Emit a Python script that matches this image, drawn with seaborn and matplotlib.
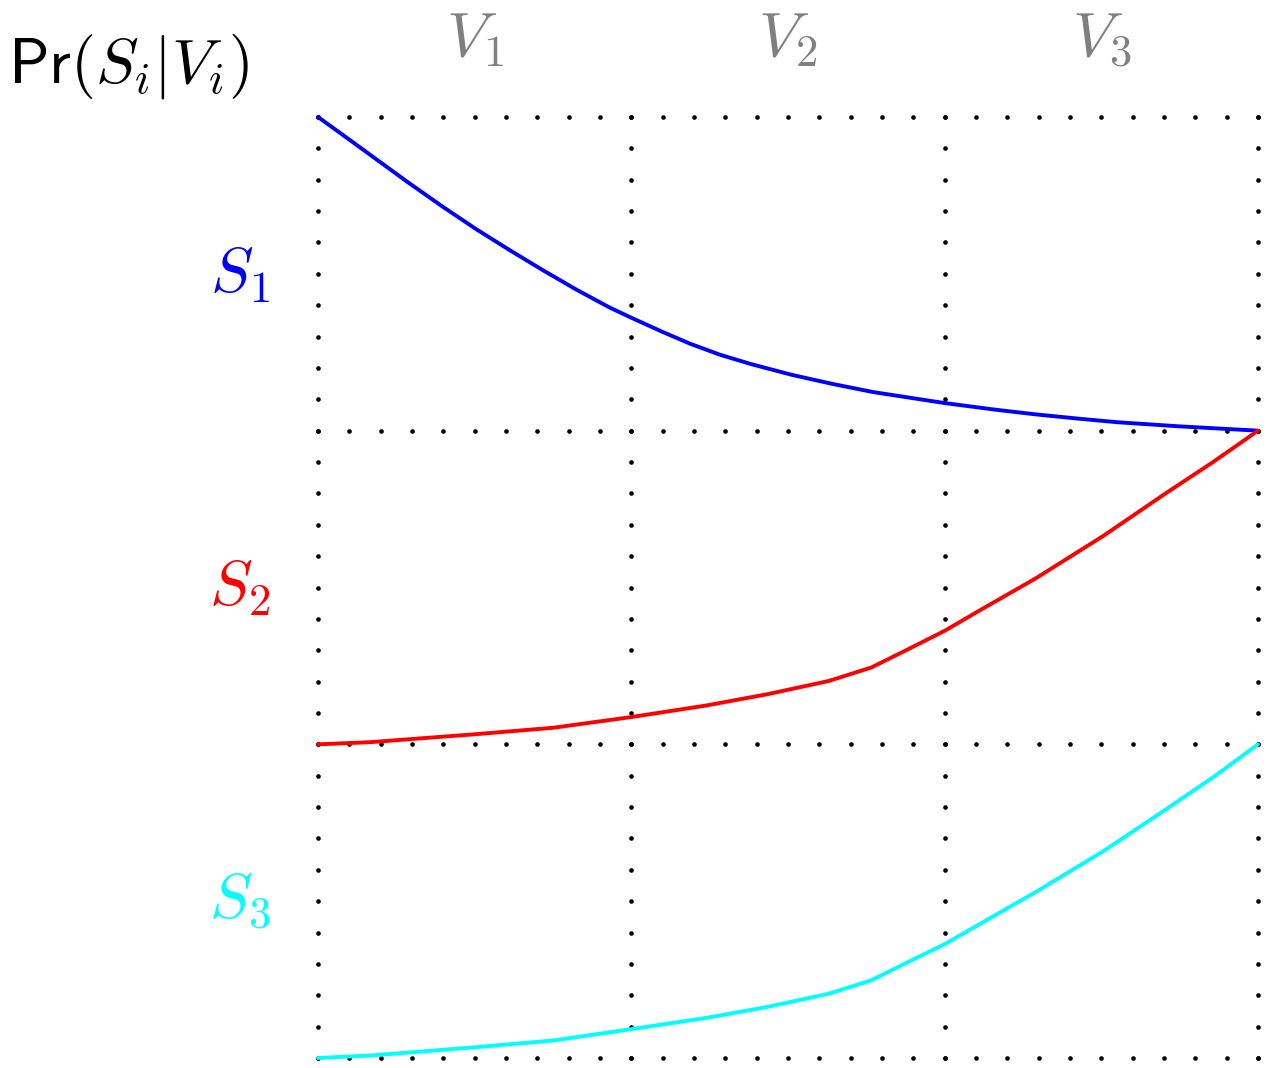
import numpy as np
import pandas as pd
import matplotlib
matplotlib.use('Agg')
import matplotlib.pyplot as plt
import seaborn as sns

# values, in grid units (x: 0..3, y: 0..3)
blue_x = [0, 0.079, 0.185, 0.291, 0.398, 0.504, 0.611, 0.717, 0.824, 0.930, 1.0,
          1.097, 1.188, 1.283, 1.383, 1.512, 1.642, 1.772, 2.0, 2.161, 2.29, 2.42,
          2.55, 2.745, 3.0]
blue_y = [3.0, 2.943, 2.866, 2.789, 2.714, 2.643, 2.576, 2.512, 2.45, 2.393, 2.36,
          2.316, 2.277, 2.242, 2.212, 2.178, 2.149, 2.123, 2.088, 2.067, 2.052, 2.039,
          2.027, 2.014, 2.0]

red_x = [0, 0.168, 0.499, 0.752, 1.0, 1.24, 1.435, 1.63, 1.766, 1.883, 2.0,
         2.117, 2.292, 2.507, 2.702, 2.858, 3.0]
red_y = [1.0, 1.007, 1.032, 1.053, 1.087, 1.124, 1.16, 1.202, 1.245, 1.303, 1.362,
         1.43, 1.53, 1.665, 1.798, 1.901, 2.0]

cyan_x = [0, 0.168, 0.499, 0.752, 1.0, 1.24, 1.435, 1.63, 1.766, 1.883, 2.0,
          2.117, 2.292, 2.507, 2.702, 2.858, 3.0]
cyan_y = [0.0, 0.008, 0.034, 0.056, 0.092, 0.128, 0.163, 0.205, 0.248, 0.306, 0.363,
          0.43, 0.53, 0.66, 0.79, 0.896, 1.0]

row_labels = [r'$S_1$', r'$S_2$', r'$S_3$']
row_colors = ['blue', 'red', 'cyan']
col_labels = [r'$V_1$', r'$V_2$', r'$V_3$']

sns.set_style('white')
plt.rcParams['mathtext.fontset'] = 'cm'

fig = plt.figure(figsize=(12.68, 10.68), dpi=100)
ax = fig.add_axes([318 / 1268, 10 / 1068, 940 / 1268, 941 / 1068])
ax.set_xlim(0, 3)
ax.set_ylim(0, 3)
ax.axis('off')

# dotted grid made of small dots every 0.1 units
steps = np.linspace(0, 3, 31)
for g in range(4):
    ax.scatter(steps, np.full_like(steps, g), s=11, color='black', lw=0, clip_on=False, zorder=1)
    ax.scatter(np.full_like(steps, g), steps, s=11, color='black', lw=0, clip_on=False, zorder=1)

curves = pd.concat([
    pd.DataFrame({'x': blue_x, 'y': blue_y, 'series': 'S1'}),
    pd.DataFrame({'x': red_x, 'y': red_y, 'series': 'S2'}),
    pd.DataFrame({'x': cyan_x, 'y': cyan_y, 'series': 'S3'}),
])
sns.lineplot(data=curves, x='x', y='y', hue='series', palette=row_colors,
             legend=False, ax=ax, clip_on=False, zorder=3)
for ln in ax.get_lines():
    ln.set_linewidth(2.8)
    ln.set_solid_capstyle('round')
    ln.set_solid_joinstyle('round')

for i, (lab, col) in enumerate(zip(row_labels, row_colors)):
    ax.text(-0.25, 2.5 - i, lab, color=col, fontsize=46, ha='center', va='center')

for i, lab in enumerate(col_labels):
    ax.text(0.5 + i, 3.25, lab, color='#808080', fontsize=46, ha='center', va='center')

ax.text(-0.99, 3.16, r'$\mathsf{Pr}(S_i|V_i)$', color='black', fontsize=46,
        ha='left', va='center')

plt.savefig('out.png', dpi=100)
plt.close()
